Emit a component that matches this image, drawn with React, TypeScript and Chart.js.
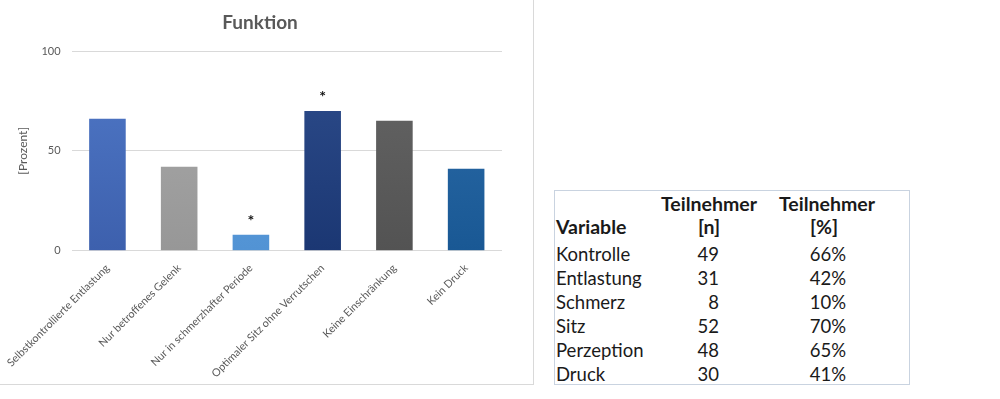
import React, { useEffect, useRef } from "react";
import { Chart, registerables } from "chart.js";

Chart.register(...registerables);

const chartTitle = "Funktion";
const yAxisTitle = "[Prozent]";
const categories = [
  "Selbstkontrollierte Entlastung",
  "Nur betroffenes Gelenk",
  "Nur in schmerzhafter Periode",
  "Optimaler Sitz ohne Verrutschen",
  "Keine Einschränkung",
  "Kein Druck",
];
const values = [66, 42, 8, 70, 65, 41];
const significance = ["", "", "*", "*", "", ""];
const barTopColors = ["#5079c8", "#ababab", "#62a3e2", "#2e4d8c", "#666666", "#2f6eab"];
const barBottomColors = ["#3d60ad", "#979797", "#5293d4", "#1b3773", "#535353", "#195894"];
const yTicks = [0, 50, 100];

const tableHeader1 = ["", "Teilnehmer", "Teilnehmer"];
const tableHeader2 = ["Variable", "[n]", "[%]"];
const tableVariables = ["Kontrolle", "Entlastung", "Schmerz", "Sitz", "Perzeption", "Druck"];
const tableN = [49, 31, 8, 52, 48, 30];
const tablePct = ["66%", "42%", "10%", "70%", "65%", "41%"];

const FONT = "Lato, 'Liberation Sans', sans-serif";

const asteriskPlugin = {
  id: "asterisks",
  afterDatasetsDraw(chart: any) {
    const meta = chart.getDatasetMeta(0);
    const ctx = chart.ctx;
    ctx.save();
    ctx.fillStyle = "#111111";
    ctx.font = `bold 16px ${FONT}`;
    ctx.textAlign = "center";
    ctx.textBaseline = "alphabetic";
    meta.data.forEach((el: any, i: number) => {
      const mark = significance[i];
      if (!mark) return;
      ctx.fillText(mark, el.x, el.y - 9);
    });
    ctx.restore();
  },
};

const titlePlugin = {
  id: "customTitle",
  afterDraw(chart: any) {
    const ctx = chart.ctx;
    ctx.save();
    ctx.fillStyle = "#595959";
    ctx.font = `bold 19px ${FONT}`;
    ctx.textAlign = "center";
    ctx.textBaseline = "middle";
    ctx.fillText(chartTitle, 260, 23);
    ctx.restore();
  },
};

function BarChart() {
  const ref = useRef<HTMLCanvasElement>(null);
  useEffect(() => {
    if (!ref.current) return;
    const chart = new Chart(ref.current, {
      type: "bar",
      data: {
        labels: categories,
        datasets: [
          {
            data: values,
            backgroundColor: (c: any) => {
              const i = c.dataIndex ?? 0;
              const area = c.chart.chartArea;
              if (!area) return barTopColors[i];
              const g = c.chart.ctx.createLinearGradient(0, area.top, 0, area.bottom);
              g.addColorStop(0, barTopColors[i]);
              g.addColorStop(1, barBottomColors[i]);
              return g;
            },
            borderWidth: 0,
            categoryPercentage: 1,
            barPercentage: 0.51,
          },
        ],
      },
      options: {
        responsive: false,
        animation: false,
        layout: { autoPadding: false, padding: { left: 12, right: 31, top: 51, bottom: 1 } },
        plugins: {
          legend: { display: false },
          tooltip: { enabled: false },
          title: { display: false },
        },
        scales: {
          x: {
            grid: { display: false },
            border: { display: false },
            ticks: {
              autoSkip: false,
              minRotation: 45,
              maxRotation: 45,
              color: "#595959",
              font: { family: FONT, size: 10.8 },
              padding: 3,
            },
          },
          y: {
            min: 0,
            max: 100,
            afterBuildTicks: (axis: any) => {
              axis.ticks = yTicks.map((v) => ({ value: v }));
            },
            grid: { color: "#d9d9d9", drawTicks: false },
            border: { display: false },
            ticks: {
              color: "#595959",
              font: { family: FONT, size: 11 },
              padding: 11,
            },
            title: {
              display: true,
              text: yAxisTitle,
              color: "#595959",
              font: { family: FONT, size: 12 },
              padding: { top: 4, bottom: 0 },
            },
          },
        },
      },
      plugins: [asteriskPlugin, titlePlugin],
    });
    return () => chart.destroy();
  }, []);
  return <canvas ref={ref} width={533} height={384} style={{ display: "block" }} />;
}

function DataTable() {
  const rowH = 24;
  const cell = (text: string | number, left: number, width: number, top: number, align: "left" | "center" | "right", bold = false, key?: string) => (
    <div
      key={key}
      style={{
        position: "absolute",
        left,
        width,
        top,
        height: rowH,
        lineHeight: `${rowH}px`,
        textAlign: align,
        fontWeight: bold ? 700 : 400,
        fontSize: bold ? 19.5 : 18.5,
        whiteSpace: "nowrap",
      }}
    >
      {text}
    </div>
  );
  const rows: any[] = [];
  rows.push(cell(tableHeader1[1], 104, 100, 1, "center", true, "h1a"));
  rows.push(cell(tableHeader1[2], 222, 100, 1, "center", true, "h1b"));
  rows.push(cell(tableHeader2[0], 1, 100, 24, "left", true, "h2a"));
  rows.push(cell(tableHeader2[1], 104, 100, 24, "center", true, "h2b"));
  rows.push(cell(tableHeader2[2], 219, 100, 24, "center", true, "h2c"));
  tableVariables.forEach((v, i) => {
    const top = 51 + i * rowH;
    rows.push(cell(v, 1, 100, top, "left", false, "v" + i));
    rows.push(cell(tableN[i], 104, 60, top, "right", false, "n" + i));
    rows.push(cell(tablePct[i], 222, 69, top, "right", false, "p" + i));
  });
  return (
    <div
      style={{
        position: "absolute",
        left: 554,
        top: 190,
        width: 354,
        height: 193,
        border: "1px solid #c9d3e0",
        fontFamily: FONT,
        color: "#1a1a1a",
      }}
    >
      {rows}
    </div>
  );
}

export default function App() {
  return (
    <div style={{ position: "absolute", left: 0, top: 0, width: 1000, height: 399, background: "#ffffff", overflow: "hidden" }}>
      <div
        style={{
          position: "absolute",
          left: 0,
          top: 0,
          width: 533,
          height: 384,
          borderRight: "1px solid #d9d9d9",
          borderBottom: "1px solid #d9d9d9",
        }}
      >
        <BarChart />
      </div>
      <DataTable />
    </div>
  );
}
